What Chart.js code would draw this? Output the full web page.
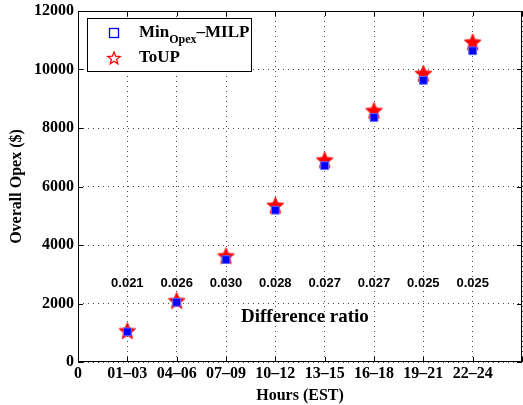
<!DOCTYPE html>
<html lang="en">
<head>
    <meta charset="UTF-8">
    <title>Overall Opex</title>
    <script src="https://cdn.jsdelivr.net/npm/chart.js"></script>
    <style>
        html, body { margin: 0; padding: 0; background: #fff; }
        #wrap { width: 523px; height: 405px; }
    </style>
</head>
<body>
    <div id="wrap"><canvas id="opexChart" width="523" height="405"></canvas></div>

    <script>
        // data
        var hourLabels = ["0", "01\u201303", "04\u201306", "07\u201309", "10\u201312", "13\u201315", "16\u201318", "19\u201321", "22\u201324", ""];
        var milpOpex = [1030, 2040, 3500, 5190, 6710, 8360, 9630, 10640];
        var toupOpex = [1060, 2090, 3620, 5350, 6900, 8590, 9860, 10930];
        var diffRatio = ["0.021", "0.026", "0.030", "0.028", "0.027", "0.027", "0.025", "0.025"];

        var serif = "'Liberation Serif', 'Times New Roman', serif";
        var sans = "'Liberation Sans', Arial, sans-serif";

        function starPath(c, cx, cy, ro, ri) {
            c.beginPath();
            for (var k = 0; k < 10; k++) {
                var r = k % 2 === 0 ? ro : ri;
                var ang = -Math.PI / 2 + k * Math.PI / 5;
                var px = cx + r * Math.cos(ang), py = cy + r * Math.sin(ang);
                if (k === 0) c.moveTo(px, py); else c.lineTo(px, py);
            }
            c.closePath();
        }

        // filled five point star used as point style
        var starImg = document.createElement('canvas');
        starImg.width = 19; starImg.height = 19;
        (function () {
            var c = starImg.getContext('2d');
            starPath(c, 9.5, 10, 9, 4);
            c.fillStyle = '#ff0000';
            c.fill();
            c.strokeStyle = '#ff2020';
            c.lineWidth = 1;
            c.stroke();
        })();

        // frame, inward ticks, ratio labels and legend with subscript
        var extras = {
            id: 'extras',
            afterDraw: function (chart) {
                var ctx = chart.ctx;
                var a = chart.chartArea;
                var xs = chart.scales.x, ys = chart.scales.y;
                ctx.save();
                ctx.strokeStyle = '#000';
                ctx.lineWidth = 1;
                ctx.strokeRect(a.left + 0.5, a.top + 0.5, a.right - a.left - 1, a.bottom - a.top - 1);

                ctx.beginPath();
                ys.ticks.forEach(function (t) {
                    var py = Math.round(ys.getPixelForValue(t.value)) + 0.5;
                    ctx.moveTo(a.left, py); ctx.lineTo(a.left + 5, py);
                    ctx.moveTo(a.right, py); ctx.lineTo(a.right - 5, py);
                });
                xs.ticks.forEach(function (t) {
                    var px = Math.round(xs.getPixelForValue(t.value)) + 0.5;
                    ctx.moveTo(px, a.bottom); ctx.lineTo(px, a.bottom - 5);
                    ctx.moveTo(px, a.top); ctx.lineTo(px, a.top + 5);
                });
                ctx.stroke();

                // difference ratios
                ctx.fillStyle = '#000';
                ctx.textAlign = 'center';
                ctx.textBaseline = 'middle';
                ctx.font = 'bold 13px ' + sans;
                diffRatio.forEach(function (r, i) {
                    ctx.fillText(r, xs.getPixelForValue(i + 1), ys.getPixelForValue(2700));
                });
                ctx.font = 'bold 19px ' + serif;
                ctx.fillText('Difference ratio', xs.getPixelForValue(4.6), ys.getPixelForValue(1530));

                // legend box
                var bx = 87, by = 18, bw = 164, bh = 53;
                ctx.fillStyle = '#fff';
                ctx.fillRect(bx, by, bw, bh);
                ctx.strokeStyle = '#000';
                ctx.strokeRect(bx + 0.5, by + 0.5, bw, bh);

                var ds = chart.data.datasets;
                var rows = [by + 15, by + 40];
                ctx.lineWidth = 1.3;
                ctx.strokeStyle = ds[0].backgroundColor;
                ctx.strokeRect(109.5, rows[0] - 4.5, 9, 9);
                ctx.strokeStyle = '#ff0000';
                starPath(ctx, 114, rows[1] + 0.5, 6.5, 2.8);
                ctx.stroke();

                ctx.fillStyle = '#000';
                ctx.textAlign = 'left';
                ctx.textBaseline = 'middle';
                ctx.font = 'bold 17px ' + serif;
                var tx = 139;
                ctx.fillText('Min', tx, rows[0]);
                tx += ctx.measureText('Min').width;
                ctx.font = 'bold 12px ' + serif;
                ctx.fillText('Opex', tx, rows[0] + 7);
                tx += ctx.measureText('Opex').width;
                ctx.font = 'bold 17px ' + serif;
                ctx.fillText('\u2013MILP', tx, rows[0]);
                ctx.fillText('ToUP', 139, rows[1]);
                ctx.restore();
            }
        };

        var ctx = document.getElementById("opexChart").getContext("2d");

        new Chart(ctx, {
            type: "scatter",
            data: {
                datasets: [
                    {
                        label: "MinOpex-MILP",
                        data: milpOpex.map(function (v, i) { return { x: i + 1, y: v }; }),
                        pointStyle: 'rect',
                        pointRadius: 5.5,
                        backgroundColor: '#0000ff',
                        borderColor: '#6666ff',
                        borderWidth: 1
                    },
                    {
                        label: "ToUP",
                        data: toupOpex.map(function (v, i) { return { x: i + 1, y: v }; }),
                        pointStyle: starImg,
                        pointRadius: 9,
                        backgroundColor: '#ff0000',
                        borderColor: '#ff0000'
                    }
                ]
            },
            options: {
                responsive: false,
                animation: false,
                layout: {
                    autoPadding: false,
                    padding: { top: 11, right: 1, left: 0, bottom: 0 }
                },
                plugins: {
                    legend: { display: false },
                    tooltip: { enabled: false }
                },
                scales: {
                    x: {
                        type: 'linear',
                        min: 0,
                        max: 9,
                        afterFit: function (s) {
                            s.height = 43;
                            s.paddingLeft = 0;
                            s.paddingRight = 0;
                        },
                        afterBuildTicks: function (s) {
                            s.ticks = hourLabels.map(function (l, i) { return { value: i }; });
                        },
                        ticks: {
                            stepSize: 1,
                            autoSkip: false,
                            maxRotation: 0,
                            padding: 2,
                            color: '#000',
                            font: { family: serif, size: 16, weight: 'bold' },
                            callback: function (v) { return hourLabels[v] || ''; }
                        },
                        grid: {
                            color: '#444',
                            drawTicks: false
                        },
                        border: { display: false, dash: [1, 4] },
                        title: {
                            display: true,
                            text: 'Hours (EST)',
                            color: '#000',
                            font: { family: serif, size: 16, weight: 'bold' },
                            padding: { top: 0, bottom: 0 }
                        }
                    },
                    y: {
                        min: 0,
                        max: 12000,
                        afterFit: function (s) {
                            s.width = 78;
                            s.paddingTop = 0;
                            s.paddingBottom = 0;
                        },
                        ticks: {
                            stepSize: 2000,
                            padding: 4,
                            color: '#000',
                            font: { family: serif, size: 16, weight: 'bold' },
                            callback: function (v) { return String(v); }
                        },
                        grid: {
                            color: '#444',
                            drawTicks: false
                        },
                        border: { display: false, dash: [1, 4] },
                        title: {
                            display: true,
                            text: 'Overall Opex ($)',
                            color: '#000',
                            font: { family: serif, size: 16, weight: 'bold' },
                            padding: { top: 7, bottom: 0 }
                        }
                    }
                }
            },
            plugins: [extras]
        });
    </script>
</body>
</html>
